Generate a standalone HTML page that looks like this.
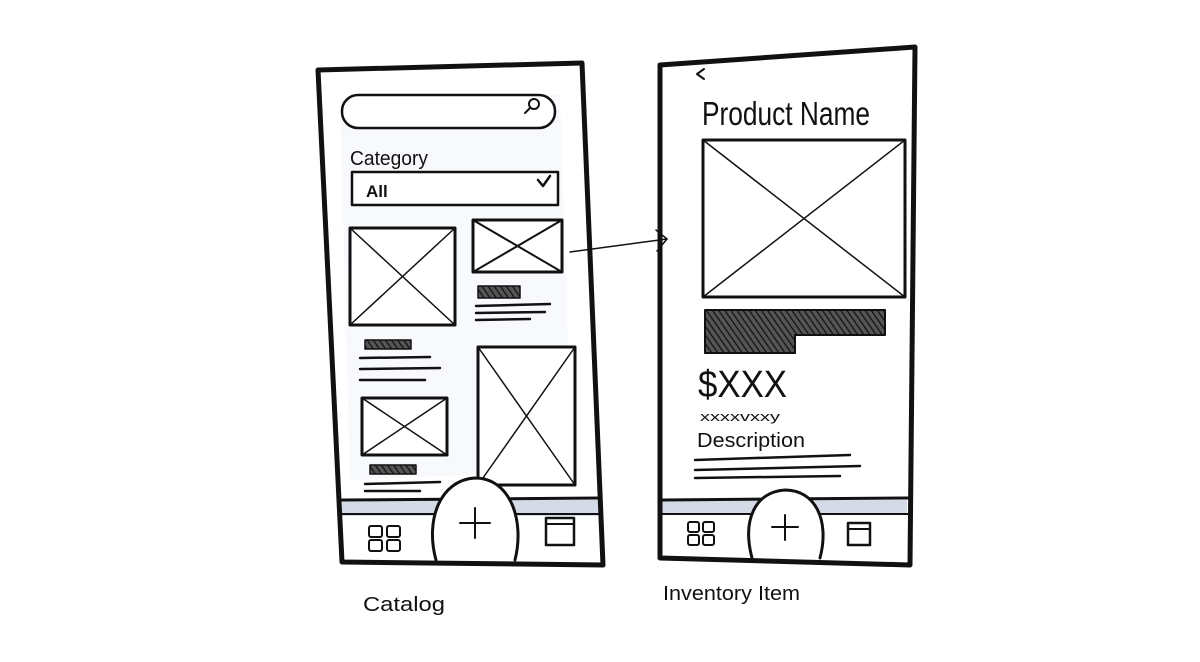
<!DOCTYPE html>
<html><head><meta charset="utf-8"><style>
html,body{margin:0;padding:0;background:#fff;}
svg{display:block;}
text{font-family:"Liberation Sans",sans-serif;fill:#111;}
</style></head><body>
<svg width="1200" height="662" viewBox="0 0 1200 662" xmlns="http://www.w3.org/2000/svg">
<defs>
<pattern id="h" width="5" height="5" patternUnits="userSpaceOnUse" patternTransform="rotate(-35)">
<rect width="5" height="5" fill="#555"/><line x1="0" y1="0" x2="0" y2="5" stroke="#111" stroke-width="2.5"/>
</pattern>
</defs>
<g fill="none" stroke="#111" stroke-linecap="round" stroke-linejoin="round">
<!-- LEFT PHONE -->
<path d="M340 100 L560 95 L572 470 L350 480 Z" fill="#f7f9fc" stroke="none"/>
<rect x="342" y="500" width="258" height="16" fill="#d5dbe6" stroke="none"/>
<polygon points="318,70 582,63 603,565 342,562" stroke-width="5"/>
<rect x="342" y="95" width="213" height="33" rx="16" stroke-width="2.5" fill="#fff"/>
<circle cx="534" cy="104" r="5" stroke-width="2"/><line x1="530" y1="108" x2="525" y2="113" stroke-width="2"/>
<rect x="352" y="172" width="206" height="33" stroke-width="2.5" fill="#fff"/>
<path d="M538 180 L543 186 L550 176" stroke-width="2.5"/>
<rect x="350" y="228" width="105" height="97" stroke-width="3" fill="#fff"/>
<path d="M350 228 L455 325 M455 228 L350 325" stroke-width="1.5"/>
<rect x="473" y="220" width="89" height="52" stroke-width="3" fill="#fff"/>
<path d="M473 220 L562 272 M562 220 L473 272" stroke-width="2"/>
<rect x="478" y="286" width="42" height="12" fill="url(#h)" stroke-width="1.5"/>
<path d="M476 306 L550 304 M476 313 L545 312 M476 320 L530 319" stroke-width="2.5"/>
<rect x="365" y="340" width="46" height="9" fill="url(#h)" stroke-width="1.5"/>
<path d="M360 358 L430 357 M360 369 L440 368 M360 380 L425 380" stroke-width="2.5"/>
<rect x="362" y="398" width="85" height="57" stroke-width="3" fill="#fff"/>
<path d="M362 398 L447 455 M447 398 L362 455" stroke-width="1.5"/>
<rect x="370" y="465" width="46" height="9" fill="url(#h)" stroke-width="1.5"/>
<path d="M365 484 L440 482 M365 491 L420 491" stroke-width="2.5"/>
<rect x="478" y="347" width="97" height="138" stroke-width="3" fill="#fff"/>
<path d="M478 347 L575 485 M575 347 L478 485" stroke-width="1.5"/>
<line x1="342" y1="500" x2="600" y2="498" stroke-width="3"/>
<line x1="342" y1="514" x2="600" y2="514" stroke-width="2"/>
<path d="M436 560 C425 520 440 480 475 478 C510 478 525 520 515 560" stroke-width="3" fill="#fff"/>
<path d="M475 508 L475 538 M460 523 L490 523" stroke-width="2"/>
<rect x="369" y="526" width="13" height="11" rx="2" stroke-width="2"/><rect x="387" y="526" width="13" height="11" rx="2" stroke-width="2"/>
<rect x="369" y="540" width="13" height="11" rx="2" stroke-width="2"/><rect x="387" y="540" width="13" height="11" rx="2" stroke-width="2"/>
<rect x="546" y="518" width="28" height="27" stroke-width="2.5"/><line x1="546" y1="524" x2="574" y2="524" stroke-width="2"/>
<!-- ARROW -->
<path d="M570 252 L667 239" stroke-width="1.5"/>
<path d="M656 230 L667 239 L657 251" stroke-width="1.5"/>
<!-- RIGHT PHONE -->
<rect x="662" y="500" width="245" height="14" fill="#d5dbe6" stroke="none"/>
<polygon points="660,65 915,47 910,565 660,558" stroke-width="5"/>
<path d="M704 69 L697 74 L704 79" stroke-width="2"/>
<rect x="703" y="140" width="202" height="157" stroke-width="3"/>
<path d="M703 140 L905 297 M905 140 L703 297" stroke-width="1.5"/>
<path d="M705 310 L885 310 L885 335 L795 335 L795 353 L705 353 Z" fill="url(#h)" stroke-width="2"/>
<path d="M695 460 L850 455 M695 470 L860 466 M695 478 L840 476" stroke-width="2.5"/>
<line x1="662" y1="500" x2="908" y2="498" stroke-width="3"/>
<line x1="662" y1="514" x2="908" y2="514" stroke-width="2"/>
<path d="M752 558 C742 520 755 492 785 490 C815 490 830 520 820 558" stroke-width="3" fill="#fff"/>
<path d="M785 515 L785 540 M772 527 L798 527" stroke-width="2"/>
<rect x="688" y="522" width="11" height="10" rx="2" stroke-width="2"/><rect x="703" y="522" width="11" height="10" rx="2" stroke-width="2"/>
<rect x="688" y="535" width="11" height="10" rx="2" stroke-width="2"/><rect x="703" y="535" width="11" height="10" rx="2" stroke-width="2"/>
<rect x="848" y="523" width="22" height="22" stroke-width="2.5"/><line x1="848" y1="529" x2="870" y2="529" stroke-width="2"/>
</g>
<text x="350" y="165" font-size="20" textLength="78" lengthAdjust="spacingAndGlyphs">Category</text>
<text x="366" y="197" font-size="17" font-weight="bold">All</text>
<text x="702" y="125" font-size="33" textLength="168" lengthAdjust="spacingAndGlyphs">Product Name</text>
<text x="698" y="397" font-size="38" textLength="89" lengthAdjust="spacingAndGlyphs">$XXX</text>
<text x="700" y="421" font-size="13" textLength="80" lengthAdjust="spacingAndGlyphs">xxxxvxxy</text>
<text x="697" y="447" font-size="20" textLength="108" lengthAdjust="spacingAndGlyphs">Description</text>
<text x="363" y="611" font-size="20" textLength="82" lengthAdjust="spacingAndGlyphs">Catalog</text>
<text x="663" y="600" font-size="20" textLength="137" lengthAdjust="spacingAndGlyphs">Inventory Item</text>
</svg>
</body></html>
